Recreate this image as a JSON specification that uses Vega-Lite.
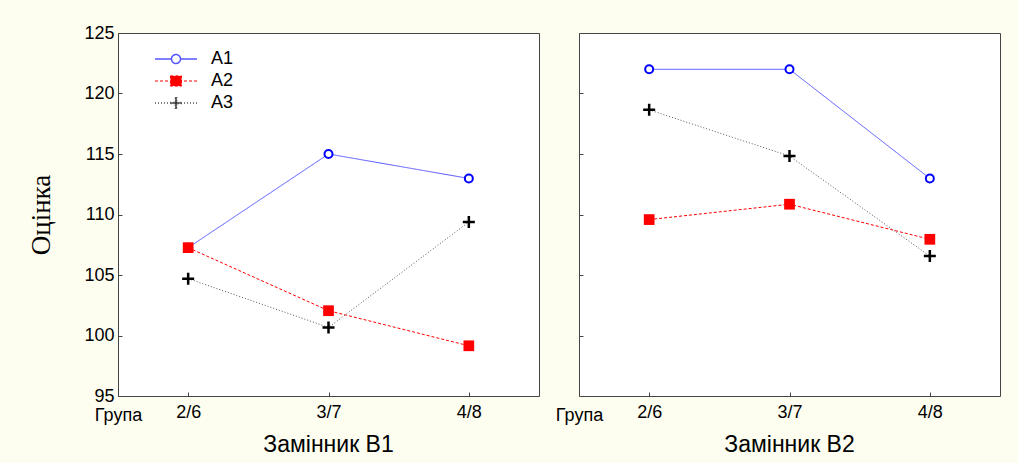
{
  "$schema": "https://vega.github.io/schema/vega-lite/v6.json",
  "background": "#fefef0",
  "padding": {"left": 27, "top": 23, "right": 18, "bottom": 5},
  "config": {
    "font": "Liberation Sans",
    "view": {"stroke": "#444444", "strokeWidth": 1, "fill": "white"},
    "axis": {
      "domain": false, "grid": false,
      "labelFont": "Liberation Sans", "labelFontSize": 18, "labelColor": "#000000",
      "tickColor": "#444444", "tickSize": -4, "tickWidth": 1,
      "titleColor": "#000000"
    },
    "title": {"font": "Liberation Sans", "fontSize": 23, "fontWeight": "normal", "color": "#000000"}
  },
  "spacing": 40,
  "bounds": "flush",
  "resolve": {"scale": {"color": "independent", "strokeDash": "independent"}},
  "hconcat": [
    {
      "width": 421, "height": 363,
      "title": {"text": "Замінник B1", "orient": "bottom", "offset": 10},
      "data": {"values": [
        {"group": "2/6", "series": "A1", "value": 107.26},
        {"group": "3/7", "series": "A1", "value": 115.0},
        {"group": "4/8", "series": "A1", "value": 112.98},
        {"group": "2/6", "series": "A2", "value": 107.26},
        {"group": "3/7", "series": "A2", "value": 102.05},
        {"group": "4/8", "series": "A2", "value": 99.15},
        {"group": "2/6", "series": "A3", "value": 104.7},
        {"group": "3/7", "series": "A3", "value": 100.67},
        {"group": "4/8", "series": "A3", "value": 109.38}
      ]},
      "encoding": {
        "x": {"field": "group", "type": "ordinal", "sort": ["2/6", "3/7", "4/8"],
          "scale": {"type": "point", "padding": 0.5},
          "axis": {"title": "Група", "titleX": 0, "titleY": 19, "titleAngle": 0, "titleAlign": "center", "titleBaseline": "middle",
            "titleFontSize": 18, "titleFontWeight": "normal", "titleFont": "Liberation Sans", "labelAngle": 0, "labelPadding": 11}},
        "y": {"field": "value", "type": "quantitative",
          "scale": {"domain": [95, 125], "nice": false, "zero": false},
          "axis": {"values": [95, 100, 105, 110, 115, 120, 125], "title": "Оцінка", "titleFont": "Liberation Serif",
            "titleFontSize": 27, "titleFontWeight": "normal", "titlePadding": 28, "labelPadding": 8}}
      },
      "layer": [
        {
          "mark": {"type": "line", "strokeWidth": 1},
          "encoding": {
            "color": {"field": "series", "type": "nominal",
              "scale": {"domain": ["A1", "A2", "A3"], "range": ["#5555ff", "#ff0000", "#555555"]},
              "legend": {
                "orient": "none", "legendX": 49, "legendY": 17, "title": null, "padding": 0,
                "symbolSize": 144, "symbolStrokeWidth": 1.5, "labelFontSize": 18, "labelColor": "#000000",
                "labelOffset": 26, "rowPadding": 4,
                "encode": {"symbols": {"update": {
                  "shape": {"signal": "datum.value === 'A1' ? 'M-3.5,0H-0.75M0.75,0H3.5M-0.75,0A0.75,0.75,0,1,0,0.75,0A0.75,0.75,0,1,0,-0.75,0Z' : datum.value === 'A2' ? 'M-3.5,0H-3M-2.67,0H-2.17M-1.83,0H-1.33M1.33,0H1.83M2.17,0H2.67M3,0H3.5M-0.92,-0.85H0.92V0.85H-0.92Z' : 'M-3.5,0H-3.33M-3,0H-2.83M-2.5,0H-2.33M-2,0H-1.83M-1.5,0H-1.33M1.33,0H1.5M1.83,0H2M2.33,0H2.5M2.83,0H3M3.33,0H3.5M-1,-0.1H-0.1V-1H0.1V-0.1H1V0.1H0.1V1H-0.1V0.1H-1Z'"},
                  "stroke": {"signal": "datum.value === 'A1' ? '#0000ff' : datum.value === 'A2' ? '#ff0000' : '#666666'"},
                  "fill": {"signal": "datum.value === 'A1' ? '#ffffff' : datum.value === 'A2' ? '#ff0000' : '#000000'"},
                  "strokeWidth": {"signal": "datum.value === 'A2' ? 1 : 1.5"},
                  "strokeDash": {"value": [1, 0]},
                  "opacity": {"value": 1}
                }}}
              }},
            "strokeDash": {"field": "series", "type": "nominal",
              "scale": {"domain": ["A1", "A2", "A3"], "range": [[1, 0], [3, 2], [1, 2]]}}
          }
        },
        {
          "transform": [{"filter": "datum.series === 'A1'"}],
          "mark": {"type": "point", "shape": "circle", "filled": true, "fill": "#ffffff", "stroke": "#0000ff", "strokeWidth": 2, "size": 64, "opacity": 1}
        },
        {
          "transform": [{"filter": "datum.series === 'A2'"}],
          "mark": {"type": "point", "shape": "square", "filled": true, "color": "#ff0000", "size": 115, "opacity": 1}
        },
        {
          "transform": [{"filter": "datum.series === 'A3'"}],
          "mark": {"type": "point", "shape": "M-1,0H1M0,-1V1", "filled": false, "stroke": "#000000", "strokeWidth": 2.5, "size": 144, "opacity": 1}
        }
      ]
    },
    {
      "width": 421, "height": 363,
      "title": {"text": "Замінник B2", "orient": "bottom", "offset": 10},
      "data": {"values": [
        {"group": "2/6", "series": "A1", "value": 122.0},
        {"group": "3/7", "series": "A1", "value": 122.0},
        {"group": "4/8", "series": "A1", "value": 112.98},
        {"group": "2/6", "series": "A2", "value": 109.58},
        {"group": "3/7", "series": "A2", "value": 110.85},
        {"group": "4/8", "series": "A2", "value": 107.95},
        {"group": "2/6", "series": "A3", "value": 118.65},
        {"group": "3/7", "series": "A3", "value": 114.83},
        {"group": "4/8", "series": "A3", "value": 106.56}
      ]},
      "encoding": {
        "x": {"field": "group", "type": "ordinal", "sort": ["2/6", "3/7", "4/8"],
          "scale": {"type": "point", "padding": 0.5},
          "axis": {"title": "Група", "titleX": 0, "titleY": 19, "titleAngle": 0, "titleAlign": "center", "titleBaseline": "middle",
            "titleFontSize": 18, "titleFontWeight": "normal", "titleFont": "Liberation Sans", "labelAngle": 0, "labelPadding": 11}},
        "y": {"field": "value", "type": "quantitative",
          "scale": {"domain": [95, 125], "nice": false, "zero": false},
          "axis": {"values": [95, 100, 105, 110, 115, 120, 125], "title": null, "labels": false}}
      },
      "layer": [
        {
          "mark": {"type": "line", "strokeWidth": 1},
          "encoding": {
            "color": {"field": "series", "type": "nominal",
              "scale": {"domain": ["A1", "A2", "A3"], "range": ["#5555ff", "#ff0000", "#555555"]}, "legend": null},
            "strokeDash": {"field": "series", "type": "nominal",
              "scale": {"domain": ["A1", "A2", "A3"], "range": [[1, 0], [3, 2], [1, 2]]}, "legend": null}
          }
        },
        {
          "transform": [{"filter": "datum.series === 'A1'"}],
          "mark": {"type": "point", "shape": "circle", "filled": true, "fill": "#ffffff", "stroke": "#0000ff", "strokeWidth": 2, "size": 64, "opacity": 1}
        },
        {
          "transform": [{"filter": "datum.series === 'A2'"}],
          "mark": {"type": "point", "shape": "square", "filled": true, "color": "#ff0000", "size": 115, "opacity": 1}
        },
        {
          "transform": [{"filter": "datum.series === 'A3'"}],
          "mark": {"type": "point", "shape": "M-1,0H1M0,-1V1", "filled": false, "stroke": "#000000", "strokeWidth": 2.5, "size": 144, "opacity": 1}
        }
      ]
    }
  ]
}
